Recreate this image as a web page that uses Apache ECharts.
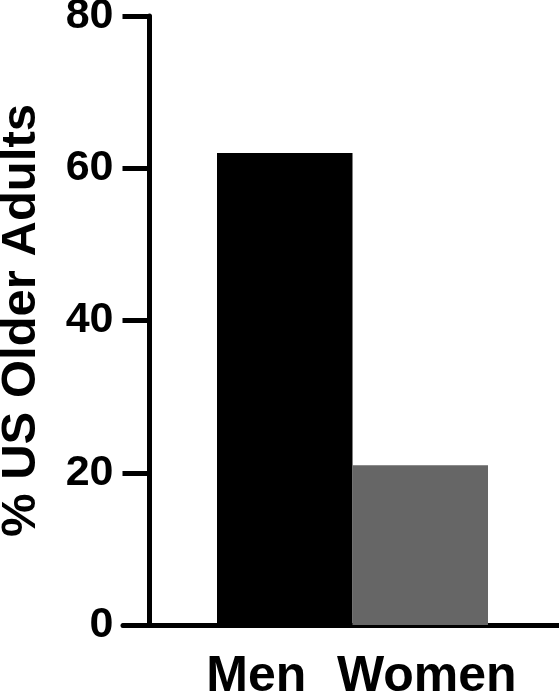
<!DOCTYPE html>
<html>
<head>
<meta charset="utf-8">
<script src="https://cdn.jsdelivr.net/npm/echarts@6/dist/echarts.min.js"></script>
<style>
html,body{margin:0;padding:0;background:#fff;}
#main{width:559px;height:695px;}
</style>
</head>
<body>
<div id="main"></div>
<script>
const categories = ['Men', 'Women'];
const values = [62, 21];
const barColors = ['#000000', '#666666'];
const yTicks = [0, 20, 40, 60, 80];
const yTitle = '% US Older Adults';

const FONT = '"Liberation Sans", Arial, Helvetica, sans-serif';
const chart = echarts.init(document.getElementById('main'), null, {renderer: 'canvas'});
chart.setOption({
  animation: false,
  backgroundColor: '#ffffff',
  grid: [
    {left: 217, right: 71, top: 16, bottom: 70, containLabel: false, outerBoundsMode: 'none'},
    {left: 123, right: 0, top: 16, bottom: 70, containLabel: false, outerBoundsMode: 'none'}
  ],
  xAxis: [
    {
      type: 'category', gridIndex: 0, data: categories,
      axisLine: {show: false},
      axisTick: {show: false},
      axisLabel: {
        interval: 0,
        hideOverlap: false,
        margin: 27,
        color: '#000',
        fontFamily: FONT,
        fontWeight: 'bold',
        fontSize: 50,
        formatter: function (v) { return v === 'Men' ? '{m|' + v + '}' : '{w|' + v + '}'; },
        rich: {
          m: {fontFamily: FONT, fontWeight: 'bold', fontSize: 50, color: '#000', padding: [0, 57, 0, 0]},
          w: {fontFamily: FONT, fontWeight: 'bold', fontSize: 50, color: '#000', padding: [0, 0, 0, 13]}
        }
      }
    },
    {
      type: 'value', gridIndex: 1, min: 0, max: 1,
      axisLine: {show: true, lineStyle: {color: '#000', width: 5}},
      axisTick: {show: false},
      axisLabel: {show: false},
      splitLine: {show: false}
    }
  ],
  yAxis: [
    {
      type: 'value', gridIndex: 0,
      min: yTicks[0], max: yTicks[yTicks.length - 1], interval: 20,
      offset: 67.5,
      name: yTitle,
      nameLocation: 'middle',
      nameGap: 104,
      nameTextStyle: {color: '#000', fontFamily: FONT, fontWeight: 'bold', fontSize: 49},
      axisLine: {show: true, lineStyle: {color: '#000', width: 5}},
      axisTick: {show: true, length: 27, lineStyle: {color: '#000', width: 5}},
      axisLabel: {margin: 36, color: '#000', fontFamily: FONT, fontWeight: 'bold', fontSize: 43},
      splitLine: {show: false}
    },
    {
      type: 'value', gridIndex: 1, show: false, min: 0, max: 1
    }
  ],
  series: [{
    type: 'bar',
    xAxisIndex: 0, yAxisIndex: 0,
    barWidth: '100%',
    data: values.map((v, i) => ({value: v, itemStyle: {color: barColors[i]}}))
  }]
});
</script>
</body>
</html>
